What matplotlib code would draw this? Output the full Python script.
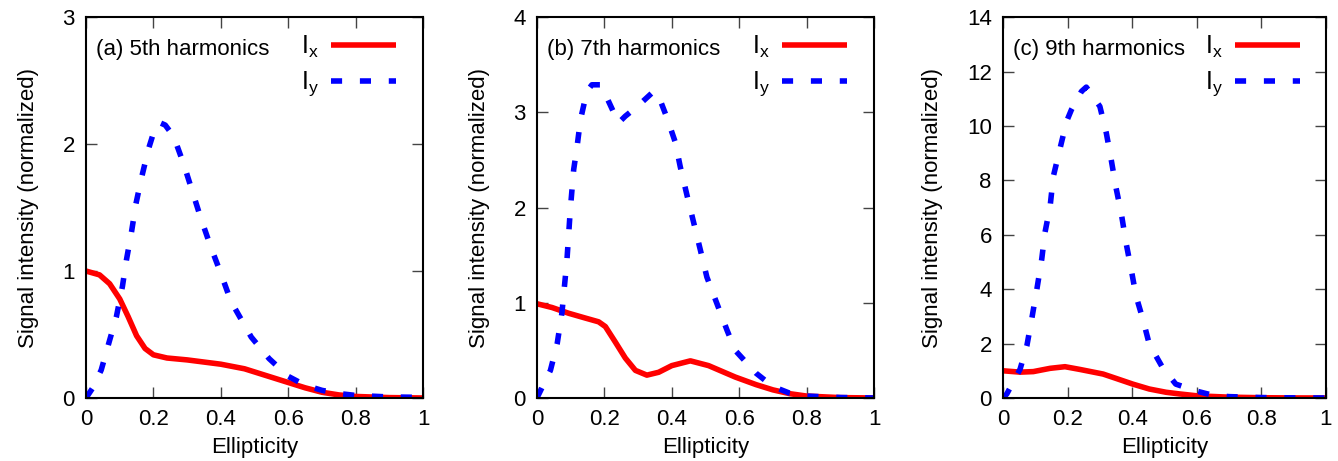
import matplotlib.pyplot as plt

plt.rcParams['font.family'] = ['Liberation Sans', 'DejaVu Sans']
plt.rcParams['mathtext.fontset'] = 'custom'
plt.rcParams['mathtext.rm'] = 'Liberation Sans'
plt.rcParams['font.size'] = 16

# (a) 5th harmonics
x_ix_a = [0, 0.04, 0.07, 0.1, 0.125, 0.15, 0.175, 0.2, 0.24, 0.3, 0.4, 0.47, 0.53, 0.59,
          0.65, 0.7, 0.75, 0.8, 0.9, 1.0]
ix_a = [1.0, 0.97, 0.9, 0.78, 0.64, 0.49, 0.39, 0.34, 0.315, 0.30, 0.266, 0.23, 0.18, 0.13,
        0.08, 0.045, 0.024, 0.012, 0.003, 0.0]
x_iy_a = [0, 0.02, 0.045, 0.07, 0.09, 0.108, 0.12, 0.135, 0.148, 0.165, 0.185, 0.205, 0.218,
          0.235, 0.26, 0.29, 0.315, 0.34, 0.37, 0.4, 0.43, 0.46, 0.49, 0.543, 0.6, 0.65,
          0.7, 0.75, 0.8, 0.9, 1.0]
iy_a = [0.0, 0.08, 0.22, 0.455, 0.64, 0.88, 1.09, 1.31, 1.53, 1.74, 1.96, 2.13, 2.17,
        2.15, 2.06, 1.84, 1.63, 1.42, 1.19, 0.98, 0.76, 0.62, 0.48, 0.31, 0.17, 0.1,
        0.06, 0.035, 0.02, 0.008, 0.005]

# (b) 7th harmonics
x_ix_b = [0, 0.045, 0.094, 0.143, 0.183, 0.203, 0.232, 0.262, 0.292, 0.326, 0.361, 0.4,
          0.455, 0.509, 0.588, 0.65, 0.7, 0.75, 0.8, 0.9, 1.0]
ix_b = [0.99, 0.95, 0.89, 0.84, 0.80, 0.75, 0.59, 0.42, 0.29, 0.24, 0.27, 0.34,
        0.39, 0.34, 0.22, 0.14, 0.085, 0.045, 0.02, 0.004, 0.0]
x_iy_b = [0, 0.04, 0.06, 0.074, 0.089, 0.099, 0.109, 0.119, 0.129, 0.148, 0.163, 0.188,
          0.208, 0.242, 0.262, 0.297, 0.346, 0.361, 0.386, 0.41, 0.425, 0.445, 0.465,
          0.485, 0.504, 0.534, 0.564, 0.588, 0.65, 0.7, 0.75, 0.8, 0.9, 1.0]
iy_b = [0.0, 0.29, 0.57, 0.89, 1.45, 1.98, 2.4, 2.64, 2.92, 3.22, 3.29, 3.29,
        3.15, 2.89, 2.96, 3.06, 3.22, 3.17, 2.94, 2.69, 2.43, 2.13, 1.84,
        1.55, 1.27, 0.99, 0.71, 0.5, 0.26, 0.12, 0.05, 0.02, 0.005, 0.0]

# (c) 9th harmonics
x_ix_c = [0, 0.053, 0.094, 0.146, 0.192, 0.238, 0.31, 0.35, 0.402, 0.453, 0.505, 0.546,
          0.6, 0.7, 0.8, 0.9, 1.0]
ix_c = [1.0, 0.95, 0.97, 1.09, 1.15, 1.05, 0.88, 0.72, 0.51, 0.33, 0.21, 0.15,
        0.08, 0.03, 0.01, 0.002, 0.0]
x_iy_c = [0, 0.012, 0.053, 0.074, 0.089, 0.105, 0.12, 0.13, 0.146, 0.156, 0.177, 0.197,
          0.212, 0.243, 0.258, 0.3, 0.32, 0.335, 0.35, 0.366, 0.381, 0.397, 0.412, 0.433,
          0.453, 0.494, 0.535, 0.6, 0.65, 0.7, 0.8, 0.9, 1.0]
iy_c = [0.0, 0.15, 1.06, 1.92, 2.9, 4.0, 5.1, 6.08, 7.05, 8.15, 9.19, 10.17,
        10.6, 11.27, 11.43, 10.72, 9.74, 8.77, 7.73, 6.81, 5.71, 4.73, 3.75, 2.9,
        1.98, 1.12, 0.51, 0.25, 0.1, 0.05, 0.015, 0.005, 0.0]

titles = ['(a) 5th harmonics', '(b) 7th harmonics', '(c) 9th harmonics']
ylims = [3, 4, 14]
yticks = [[0, 1, 2, 3], [0, 1, 2, 3, 4], [0, 2, 4, 6, 8, 10, 12, 14]]
xticks = [0, 0.2, 0.4, 0.6, 0.8, 1]
xtick_labels = ['0', '0.2', '0.4', '0.6', '0.8', '1']

fig = plt.figure(figsize=(13.38, 4.61), dpi=100)
rects = [[0.0643, 0.1367, 0.252, 0.826],
         [0.4013, 0.1367, 0.252, 0.826],
         [0.7496, 0.1367, 0.2414, 0.826]]

data = [(x_ix_a, ix_a, x_iy_a, iy_a),
        (x_ix_b, ix_b, x_iy_b, iy_b),
        (x_ix_c, ix_c, x_iy_c, iy_c)]

for i in range(3):
    ax = fig.add_axes(rects[i])
    xa, ix, xb, iy = data[i]
    ax.plot(xa, ix, color='#ff0000', lw=4, label=r'$\mathrm{I_x}$',
            solid_joinstyle='round', solid_capstyle='butt')
    ax.plot(xb, iy, color='#0000ff', lw=4, dashes=(2.0, 3.2), label=r'$\mathrm{I_y}$')
    ax.set_xlim(0, 1)
    ax.set_ylim(0, ylims[i])
    ax.set_xticks(xticks)
    ax.set_xticklabels(xtick_labels)
    ax.set_yticks(yticks[i])
    ax.tick_params(direction='in', length=8, width=1, top=True, right=True,
                   color='#444444', pad=8, labelsize=16)
    for s in ax.spines.values():
        s.set_linewidth(1.5)
    ax.set_xlabel('Ellipticity', fontsize=16, labelpad=5)
    ax.set_ylabel('Signal intensity (normalized)', fontsize=16, labelpad=17)
    ax.text(0.03, 0.915, titles[i], transform=ax.transAxes, fontsize=16, va='center')
    ax.legend(loc='upper right', bbox_to_anchor=(0.92, 0.957), frameon=False,
              markerfirst=False, handlelength=2.6, borderpad=0, borderaxespad=0,
              labelspacing=0.4, handletextpad=0.5, fontsize=18)

fig.savefig('out.png', dpi=100)
